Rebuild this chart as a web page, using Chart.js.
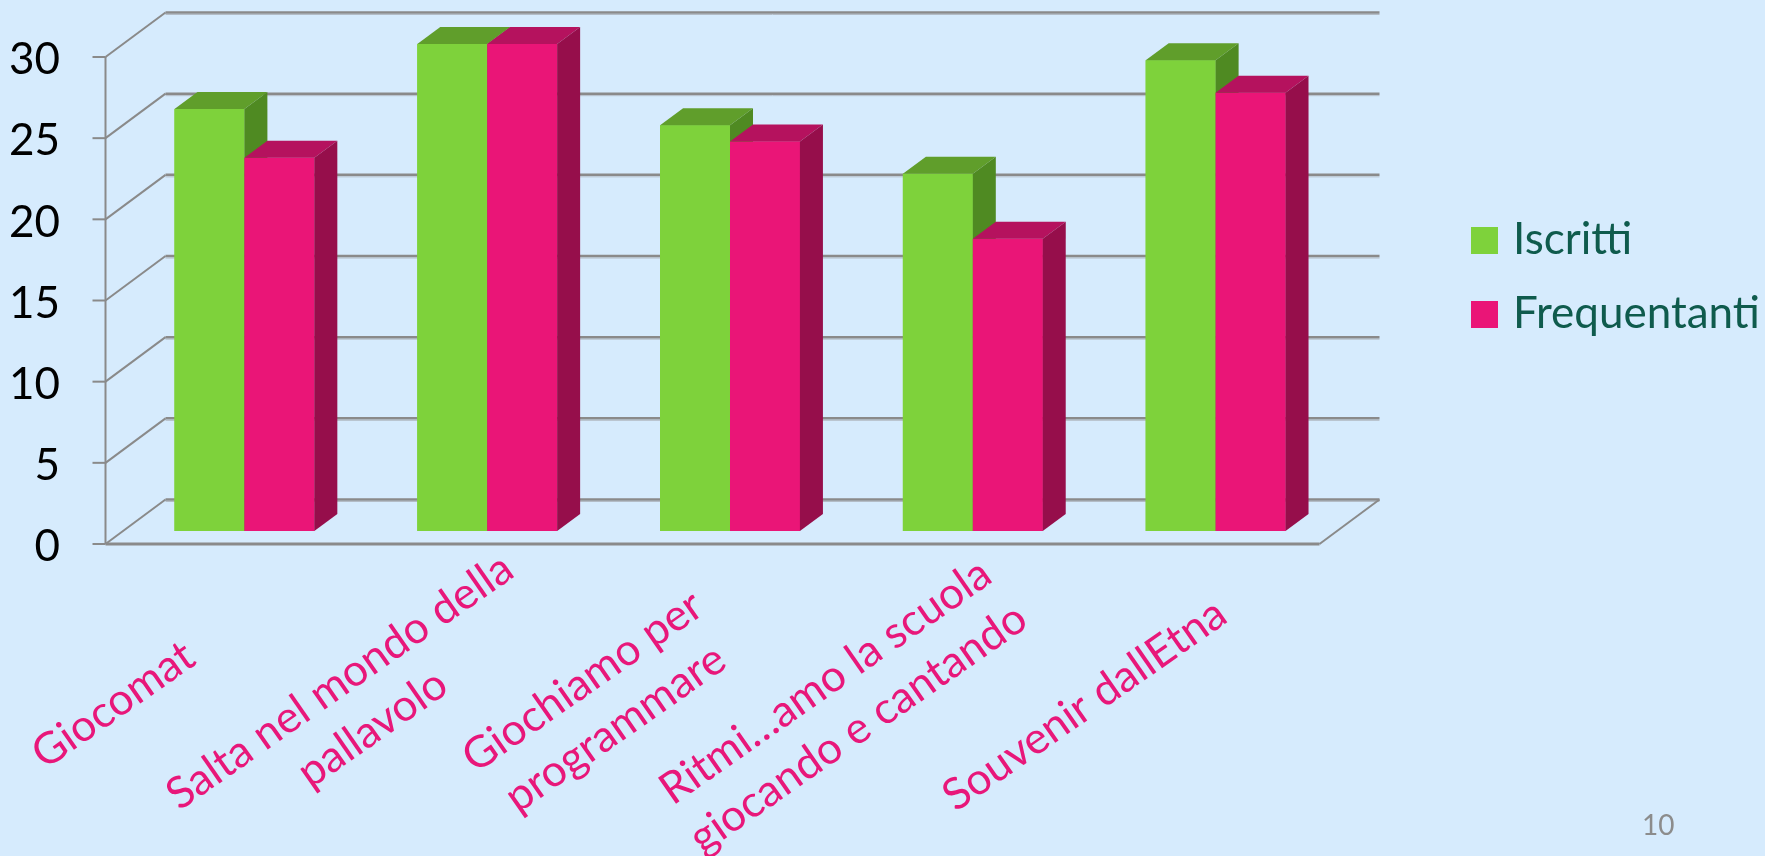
<!DOCTYPE html>
<html>
<head>
<meta charset="utf-8">
<script src="https://cdn.jsdelivr.net/npm/chart.js@4/dist/chart.umd.min.js"></script>
<style>
  html, body { margin: 0; padding: 0; background: #d6ebfd; }
  #wrap { width: 1765px; height: 856px; position: relative; }
</style>
</head>
<body>
<div id="wrap"><canvas id="chart"></canvas></div>
<script>
var categories = [
  ["Giocomat"],
  ["Salta nel mondo della", "pallavolo"],
  ["Giochiamo per", "programmare"],
  ["Ritmi…amo la scuola", "giocando e cantando"],
  ["Souvenir dallEtna"]
];
var seriesNames = ["Iscritti", "Frequentanti"];
var iscritti = [26, 30, 25, 22, 29];
var frequentanti = [23, 30, 24, 18, 27];
var yTicks = [0, 5, 10, 15, 20, 25, 30];

var frontColors = ["#7ed23b", "#ea1577"];
var topColors = ["#609e2b", "#b5125e"];
var sideColors = ["#4f8a22", "#960e4b"];
var font = "Lato, 'Open Sans', sans-serif";

// oblique offsets relative to the plane the bars stand in
var FRONT = { dx: -17.5, dy: 13 };
var BACK = { dx: 42.5, dy: -31.5 };
var BAR_DEPTH = { dx: 23, dy: -17 };

function line(ctx, x1, y1, x2, y2) {
  ctx.beginPath();
  ctx.moveTo(x1, y1);
  ctx.lineTo(x2, y2);
  ctx.stroke();
}

function poly(ctx, pts, color) {
  ctx.beginPath();
  ctx.moveTo(pts[0][0], pts[0][1]);
  for (var i = 1; i < pts.length; i++) ctx.lineTo(pts[i][0], pts[i][1]);
  ctx.closePath();
  ctx.fillStyle = color;
  ctx.fill();
}

var walls = {
  id: "walls",
  beforeDatasetsDraw: function (chart) {
    var ctx = chart.ctx;
    var y = chart.scales.y;
    var a = chart.chartArea;
    ctx.save();
    ctx.lineCap = "butt";
    yTicks.forEach(function (v) {
      var yp = y.getPixelForValue(v);
      var yb = yp + BACK.dy;
      var yf = yp + FRONT.dy;
      // back wall
      ctx.strokeStyle = "#b3bcc6";
      ctx.lineWidth = 1;
      line(ctx, a.left + BACK.dx, yb + 2, a.right + BACK.dx, yb + 2);
      ctx.strokeStyle = "#8a8a8a";
      ctx.lineWidth = 2.5;
      line(ctx, a.left + BACK.dx, yb, a.right + BACK.dx, yb);
      // side wall
      ctx.lineWidth = 2;
      line(ctx, a.left + FRONT.dx, yf, a.left + BACK.dx, yb);
      // tick
      line(ctx, a.left + FRONT.dx - 13, yf, a.left + FRONT.dx, yf);
    });
    var y0 = y.getPixelForValue(0);
    var yTop = y.getPixelForValue(yTicks[yTicks.length - 1]);
    ctx.strokeStyle = "#8a8a8a";
    ctx.lineWidth = 2;
    line(ctx, a.left + FRONT.dx, yTop + FRONT.dy, a.left + FRONT.dx, y0 + FRONT.dy);
    // floor
    ctx.lineWidth = 3;
    line(ctx, a.left + FRONT.dx, y0 + FRONT.dy, a.right + FRONT.dx, y0 + FRONT.dy);
    ctx.lineWidth = 2;
    line(ctx, a.right + FRONT.dx, y0 + FRONT.dy, a.right + BACK.dx, y0 + BACK.dy);
    ctx.restore();
  },
  afterDatasetsDraw: function (chart) {
    var ctx = chart.ctx;
    ctx.save();
    chart.data.datasets.forEach(function (ds, d) {
      var meta = chart.getDatasetMeta(d);
      meta.data.forEach(function (bar) {
        bar.draw(ctx);
        var l = bar.x - bar.width / 2;
        var r = bar.x + bar.width / 2;
        var t = bar.y;
        var b = bar.base;
        poly(ctx, [[l, t], [r, t], [r + BAR_DEPTH.dx, t + BAR_DEPTH.dy], [l + BAR_DEPTH.dx, t + BAR_DEPTH.dy]], topColors[d]);
        poly(ctx, [[r, t], [r + BAR_DEPTH.dx, t + BAR_DEPTH.dy], [r + BAR_DEPTH.dx, b + BAR_DEPTH.dy], [r, b]], sideColors[d]);
      });
    });
    ctx.restore();
  },
  afterDraw: function (chart) {
    var ctx = chart.ctx;
    var x = chart.scales.x;
    var y = chart.scales.y;
    var a = chart.chartArea;
    ctx.save();
    // value axis labels
    ctx.fillStyle = "#000000";
    ctx.font = "44px " + font;
    ctx.textAlign = "right";
    ctx.textBaseline = "middle";
    yTicks.forEach(function (v) {
      ctx.fillText(String(v), 60, y.getPixelForValue(v) + FRONT.dy + 3);
    });
    // category labels, rotated
    ctx.fillStyle = "#e8177a";
    ctx.textAlign = "center";
    categories.forEach(function (lines, i) {
      var cx = x.getPixelForValue(i) - 131;
      var cy = 705;
      ctx.save();
      ctx.translate(cx, cy);
      ctx.rotate(-35 * Math.PI / 180);
      var lh = 57;
      lines.forEach(function (txt, k) {
        ctx.fillText(txt, 0, (k - (lines.length - 1) / 2) * lh);
      });
      ctx.restore();
    });
    // legend
    ctx.textAlign = "left";
    ctx.font = "44px " + font;
    seriesNames.forEach(function (name, d) {
      var top = 227 + d * 74;
      ctx.fillStyle = frontColors[d];
      ctx.fillRect(1471, top, 27, 27);
      ctx.fillStyle = "#0f5b4d";
      ctx.fillText(name, 1513, top + 13);
    });
    // slide number
    ctx.fillStyle = "#8c8c8c";
    ctx.font = "28px " + font;
    ctx.fillText("10", 1642, 826);
    ctx.restore();
  }
};

new Chart(document.getElementById("chart"), {
  type: "bar",
  data: {
    labels: categories,
    datasets: [
      { label: seriesNames[0], data: iscritti, backgroundColor: frontColors[0] },
      { label: seriesNames[1], data: frequentanti, backgroundColor: frontColors[1] }
    ]
  },
  options: {
    responsive: true,
    maintainAspectRatio: false,
    animation: false,
    layout: { padding: { left: 123, right: 428, top: 44, bottom: 325 } },
    datasets: { bar: { barPercentage: 1, categoryPercentage: 0.576, borderWidth: 0 } },
    plugins: { legend: { display: false }, tooltip: { enabled: false } },
    scales: {
      x: { display: false },
      y: { display: false, min: 0, max: 30 }
    }
  },
  plugins: [walls]
});
</script>
</body>
</html>
